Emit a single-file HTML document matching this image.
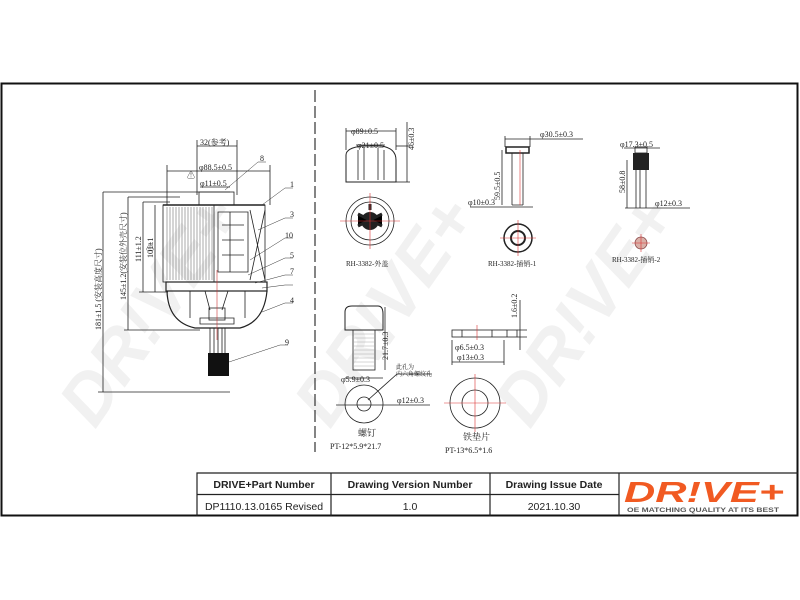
<!DOCTYPE html>
<html><head><meta charset="utf-8"><style>
html,body{margin:0;padding:0;background:#fff;}
svg{display:block;font-family:"Liberation Sans","Noto Sans CJK SC",sans-serif;}
.t{font-family:"Liberation Serif","Noto Serif CJK SC",serif;font-size:8px;fill:#222;}
</style></head><body>
<svg width="800" height="600" viewBox="0 0 800 600" xmlns="http://www.w3.org/2000/svg">
<!-- watermark -->
<g fill="#f1f1f1" font-family="Liberation Sans" font-weight="bold" font-style="italic" font-size="70">
<text transform="translate(95,430) rotate(-55)">DR!VE+</text>
<text transform="translate(330,430) rotate(-55)">DR!VE+</text>
<text transform="translate(530,430) rotate(-55)">DR!VE+</text>
</g>
<!-- frame -->
<rect x="1.5" y="83.5" width="796" height="432" fill="none" stroke="#111" stroke-width="2"/>
<line x1="315" y1="90" x2="315" y2="452" stroke="#333" stroke-width="1.2" stroke-dasharray="12,4"/>

<!-- Main filter drawing -->
<g stroke="#222" fill="none" stroke-width="0.8">
<line x1="197" y1="140" x2="197" y2="195"/><line x1="237" y1="140" x2="237" y2="195"/>
<line x1="197" y1="146" x2="237" y2="146"/>
<line x1="167" y1="165" x2="167" y2="205"/><line x1="270" y1="165" x2="270" y2="205"/>
<line x1="167" y1="171" x2="270" y2="171"/>
<line x1="200" y1="187" x2="230" y2="187"/>
<line x1="103" y1="192" x2="230" y2="192"/>
<line x1="128" y1="197" x2="180" y2="197"/>
<line x1="143" y1="202" x2="170" y2="202"/>
<line x1="103" y1="192" x2="103" y2="392"/><line x1="98" y1="392" x2="230" y2="392"/>
<line x1="128" y1="197" x2="128" y2="330"/><line x1="124" y1="330" x2="200" y2="330"/>
<line x1="143" y1="202" x2="143" y2="292"/><line x1="139" y1="292" x2="168" y2="292"/>
<line x1="155" y1="205" x2="155" y2="292"/>
<rect x="199" y="192" width="35" height="13"/>
<rect x="163" y="205" width="102" height="77"/>
<line x1="163" y1="205" x2="265" y2="205" stroke-width="1.4"/>
</g>
<g stroke="#555" stroke-width="0.5">
<path d="M167 207V280M170 207V280M173 207V280M176 207V280M179 207V280M182 207V280M185 207V280M188 207V280M191 207V280M194 207V280M197 207V280M200 207V280M203 207V280M206 207V280M209 207V280M212 207V280"/>
</g>
<g stroke="#222" fill="none" stroke-width="0.8">
<line x1="214" y1="205" x2="214" y2="282"/>
<path d="M218 212h30v60h-30zM222 225h22M222 240h22M222 255h22M230 212v60"/>
<path d="M250 210L265 280M265 210L250 280"/>
<rect x="166" y="282" width="101" height="9" stroke-width="1.2"/>
<path d="M167 291 Q168 322 195 328 L240 328 Q264 322 267 291" stroke-width="1.2"/>
<path d="M190 291V318M245 291V318M205 291L210 310M228 291L222 310M200 318h34v6h-34z"/>
<rect x="209" y="308" width="16" height="12"/>
<path d="M210 328V353M214 328V353M218 328V353M222 328V353M225 328V353"/>
</g>
<line x1="217" y1="270" x2="217" y2="340" stroke="#c33" stroke-width="0.6"/>
<rect x="208" y="353" width="21" height="23" fill="#111"/>
<g stroke="#333" stroke-width="0.5" fill="none">
<path d="M225 190L258 162h8M262 205L285 188h8M258 230L285 218h8M250 260L285 238h8M248 275L285 258h8M255 283L285 275h8M262 288L285 285h8M262 312L285 303h8M229 362L280 345h8"/>
</g>
<g class="t" font-size="6">
<text x="260" y="161">8</text><text x="290" y="187">1</text><text x="290" y="217">3</text><text x="285" y="238">10</text><text x="290" y="258">5</text><text x="290" y="274">7</text><text x="290" y="303">4</text><text x="285" y="345">9</text>
<text x="200" y="145">32(参考)</text>
<text x="199" y="170">φ88.5±0.5</text>
<text x="200" y="186">φ11±0.5</text>
<text x="187" y="178">⚠</text><text x="146" y="250">⚠</text>
<text transform="translate(101,330) rotate(-90)">181±1.5 (安装高度尺寸)</text>
<text transform="translate(126,300) rotate(-90)">145±1.2(安装位外壳尺寸)</text>
<text transform="translate(141,262) rotate(-90)">111±1.2</text>
<text transform="translate(153,258) rotate(-90)">101±1</text>
</g>

<!-- RH-3382 外盖 -->
<g stroke="#222" fill="none" stroke-width="0.8">
<path d="M346 182V155Q346 148 362 146H381Q396 148 396 160V182Z" stroke-width="1"/>
<path d="M358 150v30M384 150v30M364 148v32M378 148v32"/>
<line x1="346" y1="131" x2="396" y2="131"/><line x1="346" y1="128" x2="346" y2="150"/><line x1="396" y1="128" x2="396" y2="150"/>
<line x1="356" y1="145" x2="385" y2="145"/>
<line x1="407" y1="122" x2="407" y2="182"/><line x1="396" y1="182" x2="410" y2="182"/><line x1="396" y1="146" x2="410" y2="146"/>
<circle cx="370" cy="221" r="24"/><circle cx="370" cy="221" r="19"/>
</g>
<circle cx="370" cy="221" r="9" fill="#222"/>
<path d="M358 214l12 6-12 6M382 214l-12 6 12 6M370 210v-6" stroke="#222" stroke-width="3"/>
<path d="M340 221h60M370 193v56" stroke="#d33" stroke-width="0.6"/>
<g class="t">
<text x="351" y="134">φ89±0.5</text>
<text x="357" y="148">φ21±0.5</text>
<text transform="translate(414,150) rotate(-90)">46±0.3</text>
<text x="346" y="266" font-size="7">RH-3382-外盖</text>
</g>

<!-- RH-3382 插销-1 -->
<g stroke="#222" fill="none" stroke-width="0.8">
<rect x="506" y="147" width="23" height="6" stroke-width="1.5"/>
<path d="M512 153V205M523 153V205M512 205h11"/>
<line x1="505" y1="139" x2="535" y2="139"/><line x1="505" y1="136" x2="505" y2="147"/><line x1="530" y1="136" x2="530" y2="147"/>
<line x1="535" y1="139" x2="583" y2="139"/>
<line x1="502" y1="150" x2="502" y2="205"/>
<line x1="470" y1="207" x2="533" y2="207"/>
<circle cx="518" cy="238" r="14" stroke-width="1.5"/><circle cx="518" cy="238" r="7" stroke-width="2"/>
</g>
<path d="M520 150v55" stroke="#d33" stroke-width="0.6"/>
<path d="M500 238h36M518 220v36" stroke="#d33" stroke-width="0.6"/>
<g class="t">
<text x="540" y="137">φ30.5±0.3</text>
<text transform="translate(500,200) rotate(-90)">59.5±0.5</text>
<text x="468" y="205">φ10±0.3</text>
<text x="488" y="266" font-size="7">RH-3382-插销-1</text>
</g>

<!-- RH-3382 插销-2 -->
<rect x="633" y="153" width="16" height="17" fill="#222"/>
<g stroke="#222" fill="none" stroke-width="0.8">
<rect x="635" y="147" width="12" height="6"/>
<path d="M636 170V208M646 170V208M640 170v38"/>
<line x1="624" y1="148" x2="660" y2="148"/>
<line x1="627" y1="160" x2="627" y2="208"/>
<line x1="625" y1="208" x2="690" y2="208"/>
</g>
<circle cx="641" cy="243" r="6" fill="#d9b0a8" stroke="#844" stroke-width="0.8"/>
<path d="M632 243h18M641 234v18" stroke="#d33" stroke-width="0.6"/>
<g class="t">
<text x="620" y="147">φ17.3±0.5</text>
<text transform="translate(625,193) rotate(-90)">58±0.8</text>
<text x="655" y="206">φ12±0.3</text>
<text x="612" y="262" font-size="7">RH-3382-插销-2</text>
</g>

<!-- screw -->
<g stroke="#222" fill="none" stroke-width="0.8">
<path d="M345 330V312Q345 306 352 306H378Q383 306 383 314V330Z" stroke-width="1"/>
<rect x="353" y="330" width="22" height="40"/>
<line x1="385" y1="307" x2="385" y2="370"/>
<line x1="345" y1="378" x2="383" y2="378"/>
<circle cx="364" cy="404" r="19"/><circle cx="364" cy="404" r="7"/>
<line x1="336" y1="405" x2="430" y2="405"/>
<path d="M368 400L397 374h35"/>
</g>
<g stroke="#999" stroke-width="0.4"><path d="M354 334h20M354 338h20M354 342h20M354 346h20M354 350h20M354 354h20M354 358h20M354 362h20M354 366h20"/></g>
<g class="t">
<text transform="translate(388,360) rotate(-90)">21.7±0.3</text>
<text x="341" y="382">φ5.9±0.3</text>
<text x="396" y="369" font-size="6">此孔为</text><text x="396" y="376" font-size="6">内六角螺纹孔</text>
<text x="397" y="403">φ12±0.3</text>
<text x="358" y="436" font-size="9">螺钉</text>
<text x="330" y="449">PT-12*5.9*21.7</text>
</g>

<!-- washer -->
<g stroke="#222" fill="none" stroke-width="0.8">
<rect x="452" y="330" width="65" height="7"/>
<path d="M462 330v7M492 330v7M507 330v7M517 330h10M517 337h10"/>
<line x1="520" y1="300" x2="520" y2="350"/>
<line x1="452" y1="340" x2="452" y2="365"/><line x1="504" y1="340" x2="504" y2="365"/>
<line x1="452" y1="362" x2="504" y2="362"/>
<circle cx="475" cy="403" r="25"/><circle cx="475" cy="403" r="13"/>
</g>
<path d="M477 325v15M444 403h62M475 374v58" stroke="#d33" stroke-width="0.6"/>
<g class="t">
<text transform="translate(517,318) rotate(-90)">1.6±0.2</text>
<text x="455" y="350">φ6.5±0.3</text>
<text x="457" y="360">φ13±0.3</text>
<text x="463" y="440" font-size="9">铁垫片</text>
<text x="445" y="453">PT-13*6.5*1.6</text>
</g>

<!-- title block -->
<g stroke="#222" fill="none" stroke-width="1.2">
<path d="M197 516V473H798M197 494.5H619M331 473V516M490 473V516M619 473V516"/>
</g>
<g font-size="10.5" fill="#222" text-anchor="middle">
<text x="264" y="488" font-weight="bold">DRIVE+Part Number</text>
<text x="410" y="488" font-weight="bold">Drawing Version Number</text>
<text x="554" y="488" font-weight="bold">Drawing Issue Date</text>
<text x="264" y="510">DP1110.13.0165 Revised</text>
<text x="410" y="510">1.0</text>
<text x="554" y="510">2021.10.30</text>
</g>
<text x="624" y="502" font-size="29" font-weight="bold" font-style="italic" fill="#f15a22" textLength="160" lengthAdjust="spacingAndGlyphs">DR!VE+</text>
<text x="627" y="512" font-size="6.5" font-weight="bold" fill="#555" textLength="152" lengthAdjust="spacingAndGlyphs">OE MATCHING QUALITY AT ITS BEST</text>
</svg>
</body></html>
